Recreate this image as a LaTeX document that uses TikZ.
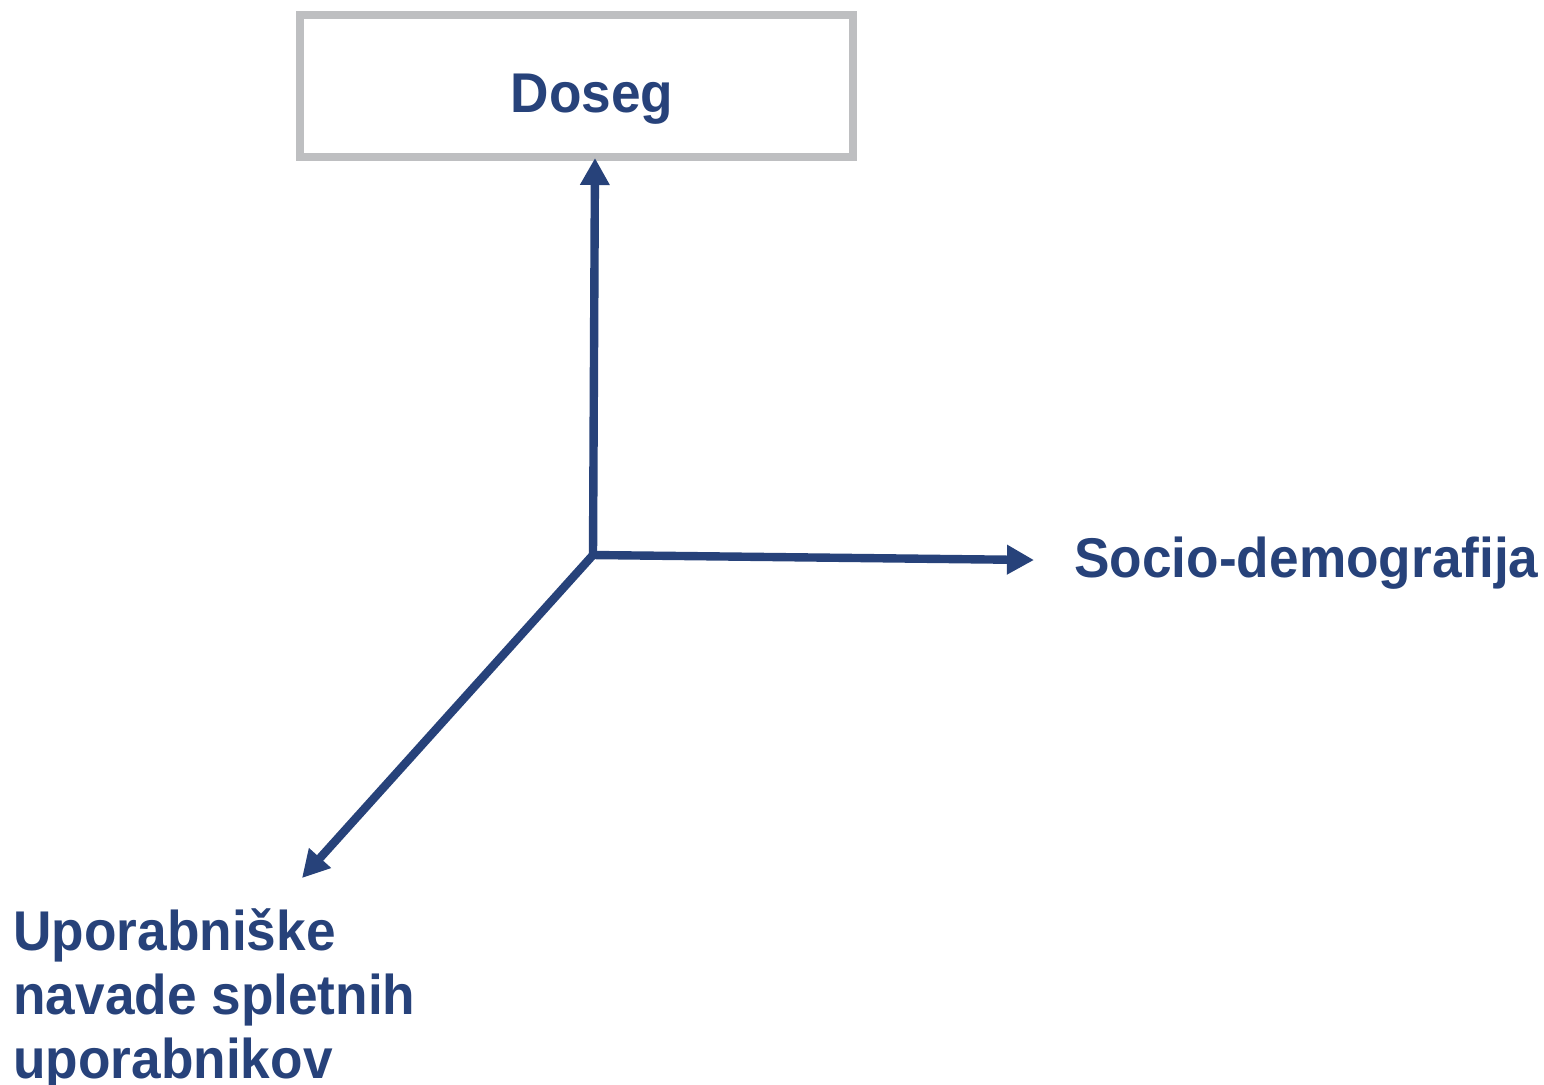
\documentclass[tikz,border=0pt]{standalone}
\usepackage{fontspec}
\newfontfamily\lblfont[FakeStretch=0.95]{Liberation Sans Bold}
\usetikzlibrary{arrows.meta}
\definecolor{navy}{HTML}{27427A}
\definecolor{boxgray}{HTML}{BEBFC1}
\tikzset{
  axis/.style={draw=navy, line width=4.2pt, -{Triangle[length=13.5pt,width=14pt]}},
  lbl/.style={text=navy, font=\lblfont\fontsize{28pt}{32pt}\selectfont, inner sep=0pt},
  framebox/.style={draw=boxgray, line width=4pt, minimum width=276.5pt, minimum height=71pt, inner sep=0pt}
}
\begin{document}
\begin{tikzpicture}[x=0.5pt,y=-0.5pt]
\useasboundingbox (0,0) rectangle (1544,1084);
\node[framebox] (doseg) at (576.5,86) {};
\node[lbl, anchor=base] (dosegtxt) at (592,112) {Doseg};
\coordinate (O) at (593,555);
\coordinate (up) at (595,158);
\coordinate (rt) at (1034,560);
\coordinate (dl) at (302,878);
\node[lbl, anchor=base west] (soc) at (1074,577) {Socio-demograf\kern0pt ija};
\node[lbl, anchor=north west, align=left] (upo) at (13,908) {Uporabniške\\navade spletnih\\uporabnikov};
\draw[axis] (O) -- (up);
\draw[axis] (O) -- (rt);
\draw[axis] (O) -- (dl);
\end{tikzpicture}
\end{document}
